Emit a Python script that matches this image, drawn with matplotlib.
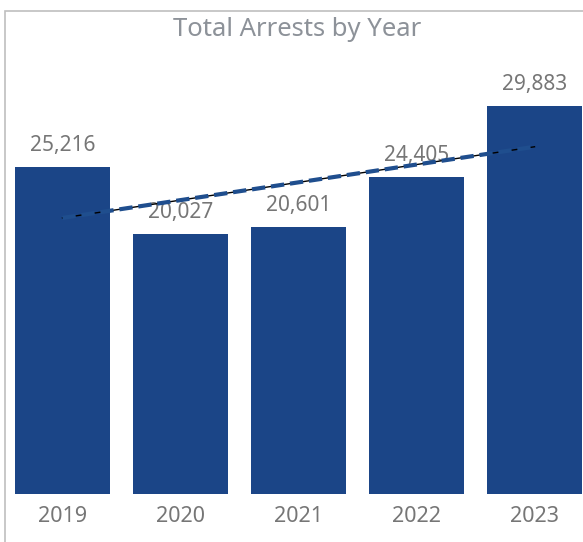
import numpy as np
import matplotlib
matplotlib.use("Agg")
import matplotlib.pyplot as plt
from matplotlib.patches import Rectangle

years = ["2019", "2020", "2021", "2022", "2023"]
arrests = [25216, 20027, 20601, 24405, 29883]
title = "Total Arrests by Year"

bar_color = "#1B4587"
text_color = "#767676"
title_color = "#8D9299"

plt.rcParams['font.family'] = ['Noto Sans', 'DejaVu Sans']

W, H = 583, 542
fig = plt.figure(figsize=(W / 100, H / 100), dpi=100)
fig.patch.set_facecolor("white")

# figure border (top & left visible)
fig.add_artist(Rectangle((4.5 / W, -0.1), 1.2, (H - 10.5) / H + 0.1,
                         transform=fig.transFigure, fill=False,
                         edgecolor="#BFBFBF", linewidth=1.2))

left = 3.5 / W
bottom = (H - 494) / H
ax = fig.add_axes([left, bottom, 590 / W, 454 / H])
x = np.arange(len(years))
ax.bar(x, arrests, width=0.805, color=bar_color, zorder=2)
ax.set_xlim(-0.5, 4.5)
ax.set_ylim(0, 35000)

# linear trendline
coef = np.polyfit(x, arrests, 1)
ty = np.polyval(coef, x)
ax.plot([x[0], x[-1]], [ty[0], ty[-1]], color="black", lw=1.0, zorder=3)
ax.plot([x[0], x[-1]], [ty[0], ty[-1]], color="#1F4E8E", lw=3.0,
        dashes=(3.2, 1.4), zorder=4)

for xi, v in zip(x, arrests):
    ax.annotate(f"{v:,}", (xi, v), xytext=(0, 15.5), textcoords="offset points",
                ha="center", va="center", fontsize=15, color=text_color, zorder=1)

ax.set_xticks(x)
ax.set_xticklabels(years, fontsize=15.5, color=text_color)
ax.tick_params(axis="x", length=0, pad=9)
ax.set_yticks([])
for s in ax.spines.values():
    s.set_visible(False)
ax.patch.set_alpha(0)

fig.text(297 / W, 1 - 29.5 / H, title, ha="center", va="center",
         fontsize=18.5, color=title_color)

fig.savefig("out.png", dpi=100)
